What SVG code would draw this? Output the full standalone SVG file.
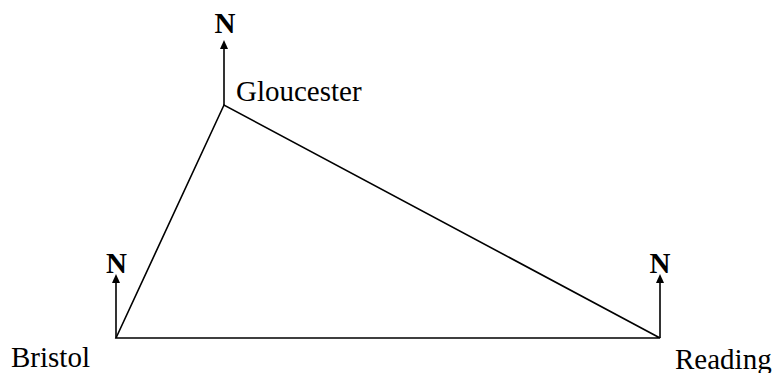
<svg xmlns="http://www.w3.org/2000/svg" width="778" height="373" viewBox="0 0 778 373">
<style>
.edge{fill:none;stroke:#000;stroke-width:1.6}
.north{fill:none;stroke:#000;stroke-width:1.6}
.head{fill:#000;stroke:none}
.lbl{font-family:"Liberation Serif","Times New Roman",serif;font-size:29px;fill:#000}
.n{font-family:"Liberation Serif","Times New Roman",serif;font-size:29px;font-weight:bold;fill:#000;text-anchor:middle}
</style>
<defs>
<path id="ah" class="head" d="M0,0 L-4,9 L4,9 Z"/>
</defs>
<rect width="778" height="373" fill="#fff"/>
<g id="connectors">
<path class="edge" d="M116,338 L224,105 L660,338 Z"/>
</g>
<g id="gloucester">
<line class="north" x1="224" y1="105" x2="224" y2="48"/>
<use href="#ah" x="224" y="40"/>
<text class="n" x="225" y="33">N</text>
<text class="lbl" x="236" y="101">Gloucester</text>
</g>
<g id="bristol">
<line class="north" x1="116" y1="338" x2="116" y2="282"/>
<use href="#ah" x="116" y="274"/>
<text class="n" x="116.5" y="273">N</text>
<text class="lbl" x="11" y="367">Bristol</text>
</g>
<g id="reading">
<line class="north" x1="660" y1="338" x2="660" y2="282"/>
<use href="#ah" x="660" y="274"/>
<text class="n" x="660" y="273">N</text>
<text class="lbl" x="675" y="369">Reading</text>
</g>
</svg>
